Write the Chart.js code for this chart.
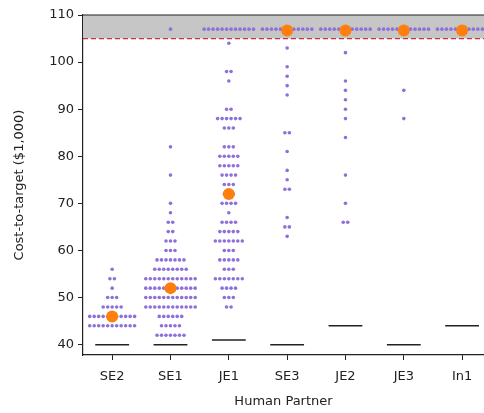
<!DOCTYPE html>
<html>
<head>
<meta charset="utf-8">
<script src="https://cdn.jsdelivr.net/npm/chart.js@4"></script>
<style>
  html, body { margin: 0; padding: 0; background: #fff; }
</style>
</head>
<body>
<canvas id="swarmChart" width="484" height="413"></canvas>
<script>
const partners = ["SE2", "SE1", "JE1", "SE3", "JE2", "JE3", "In1"];
const yTicks = [40, 50, 60, 70, 80, 90, 100, 110];
const capValue = 105;        // runs above this were cut off
const cappedPlotValue = 107; // where the cut-off runs are drawn

// [cost, number of runs at that cost]
const rowsSE2 = [[56,1],[54,2],[52,1],[50,3],[48,5],[46,11],[44,11]];
const rowsSE1 = [[82,1],[76,1],[70,1],[68,1],[66,2],[64,2],[62,3],[60,3],[58,7],[56,8],[54,12],[52,12],[50,12],[48,12],[46,6],[44,5],[42,7]];
const rowsJE1 = [[104,1],[98,2],[96,1],[90,2],[88,6],[86,3],[82,3],[80,5],[78,5],[76,4],[74,3],[72,3],[70,4],[68,1],[66,4],[64,5],[62,7],[60,3],[58,5],[56,3],[54,7],[52,4],[50,3],[48,2]];
const rowsSE3 = [[103,1],[99,1],[97,1],[95,1],[93,1],[85,2],[81,1],[77,1],[75,1],[73,2],[67,1],[65,2],[63,1]];
const rowsJE2 = [[102,1],[96,1],[94,1],[92,1],[90,1],[88,1],[84,1],[76,1],[70,1],[66,2]];
const rowsJE3 = [[94,1],[88,1]];
const rowsIn1 = [];
const cappedCounts = [0, 1, 12, 12, 12, 12, 12];
const centerValues = [46, 52, 72, 106.7, 106.7, 106.7, 106.7];
const minValues = [40, 40, 41, 40, 44, 40, 44];

const xMin = -0.5, xMax = 6.375;
const dotStep = 0.077;
const minHalfWidth = 0.29;

const allRows = [rowsSE2, rowsSE1, rowsJE1, rowsSE3, rowsJE2, rowsJE3, rowsIn1];

// lay the dots side by side in each row, swarm style
function buildSwarm() {
  const pts = [];
  allRows.forEach((rows, i) => {
    const full = rows.concat(cappedCounts[i] ? [[cappedPlotValue, cappedCounts[i]]] : []);
    full.forEach(([v, n]) => {
      for (let k = 0; k < n; k++) {
        pts.push({ x: i + (k - (n - 1) / 2) * dotStep, y: v });
      }
    });
  });
  return pts;
}

const minLinePts = [];
minValues.forEach((v, i) => {
  minLinePts.push({ x: i - minHalfWidth, y: v }, { x: i + minHalfWidth, y: v }, { x: i, y: null });
});

const topBorder = {
  id: "topBorder",
  afterDraw(chart) {
    const { ctx, chartArea } = chart;
    ctx.save();
    ctx.strokeStyle = "#222";
    ctx.lineWidth = 1.2;
    ctx.beginPath();
    ctx.moveTo(chartArea.left, chartArea.top);
    ctx.lineTo(chartArea.right, chartArea.top);
    ctx.stroke();
    ctx.restore();
  },
};

Chart.defaults.font.family = "'DejaVu Sans', sans-serif";
Chart.defaults.font.size = 13;
Chart.defaults.color = "#222";

new Chart(document.getElementById("swarmChart"), {
  type: "scatter",
  data: {
    datasets: [
      {
        type: "line",
        data: [{ x: xMin, y: capValue }, { x: xMax, y: capValue }],
        fill: "end",
        backgroundColor: "#c6c6c6",
        borderColor: "#c8323a",
        borderWidth: 1.2,
        borderDash: [5, 3],
        pointRadius: 0,
        order: 4,
      },
      {
        type: "line",
        data: minLinePts,
        borderColor: "#222",
        borderWidth: 1.5,
        pointRadius: 0,
        spanGaps: false,
        order: 3,
      },
      {
        data: buildSwarm(),
        backgroundColor: "#8f6fd8",
        borderWidth: 0,
        pointRadius: 1.8,
        order: 2,
      },
      {
        data: centerValues.map((v, i) => ({ x: i, y: v })),
        backgroundColor: "#ff7f0e",
        borderWidth: 0,
        pointRadius: 6,
        order: 1,
      },
    ],
  },
  options: {
    responsive: false,
    animation: false,
    layout: { autoPadding: false, padding: { top: 15, right: 0, left: 0, bottom: 0 } },
    plugins: { legend: { display: false }, tooltip: { enabled: false } },
    scales: {
      x: {
        type: "linear",
        min: xMin,
        max: xMax,
        afterBuildTicks: (s) => { s.ticks = partners.map((p, i) => ({ value: i })); },
        afterFit: (s) => { s.height = 58; s.paddingLeft = 0; s.paddingRight = 0; },
        ticks: {
          autoSkip: false,
          maxRotation: 0,
          padding: 9,
          callback: (v) => partners[Math.round(v)],
        },
        grid: { display: true, drawOnChartArea: false, drawTicks: true, tickLength: 5, color: "#222" },
        border: { display: true, color: "#222", width: 1.2 },
        title: { display: true, text: "Human Partner", padding: { top: 4, bottom: 4 } },
      },
      y: {
        type: "linear",
        min: 37.8,
        max: 110,
        afterBuildTicks: (s) => { s.ticks = yTicks.map((v) => ({ value: v })); },
        afterFit: (s) => { s.width = 83; },
        ticks: { padding: 4 },
        grid: { display: true, drawOnChartArea: false, drawTicks: true, tickLength: 5, color: "#222" },
        border: { display: true, color: "#222", width: 1.2 },
        title: { display: true, text: "Cost-to-target ($1,000)", padding: { top: 12, bottom: 0 } },
      },
    },
  },
  plugins: [topBorder],
});
</script>
</body>
</html>
